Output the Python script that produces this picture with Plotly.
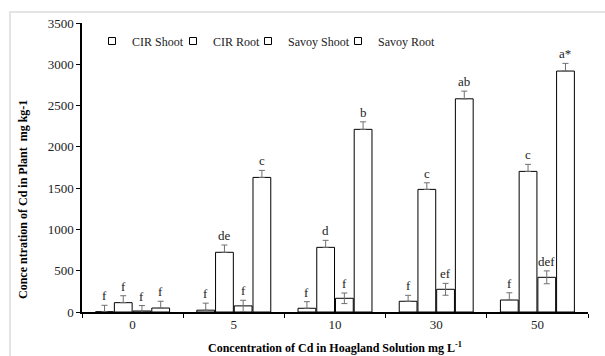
import plotly.graph_objects as go

categories = ["0", "5", "10", "30", "50"]
series_names = ["CIR Shoot", "CIR Root", "Savoy Shoot", "Savoy Root"]

cir_shoot = [3, 22, 45, 130, 145]
cir_shoot_err = [78, 85, 80, 72, 88]
cir_root = [113, 723, 783, 1485, 1703]
cir_root_err = [84, 88, 85, 80, 85]
savoy_shoot = [12, 74, 166, 275, 420]
savoy_shoot_err = [66, 68, 64, 72, 78]
savoy_root = [48, 1630, 2212, 2582, 2918]
savoy_root_err = [82, 85, 91, 93, 93]

cir_shoot_lbl = ["f", "f", "f", "f", "f"]
cir_root_lbl = ["f", "de", "d", "c", "c"]
savoy_shoot_lbl = ["f", "f", "f", "ef", "def"]
savoy_root_lbl = ["f", "c", "b", "ab", "a*"]

values = [cir_shoot, cir_root, savoy_shoot, savoy_root]
errors = [cir_shoot_err, cir_root_err, savoy_shoot_err, savoy_root_err]
labels = [cir_shoot_lbl, cir_root_lbl, savoy_shoot_lbl, savoy_root_lbl]
symmetric = [False, False, True, False]

W, H = 605, 356
ML, MR, MT, MB = 82, 17, 23, 44
pw = W - ML - MR
ph = H - MT - MB
FONT = "Liberation Serif"

legend_ids = ["legend", "legend2", "legend3", "legend4"]
legend_text_px = [124, 205, 280, 370]

fig = go.Figure()
for name, v, e, sym, lid in zip(series_names, values, errors, symmetric, legend_ids):
    fig.add_trace(go.Bar(
        name=name, x=categories, y=v, showlegend=False, legendgroup=name,
        marker=dict(color="white", line=dict(color="black", width=1)),
        error_y=dict(type="data", array=e, symmetric=True if sym else False,
                     arrayminus=e if sym else [0] * len(e),
                     color="#707070", thickness=1, width=3),
    ))
    # legend entry with a small square key, as in the original
    fig.add_trace(go.Scatter(
        name=name, x=[None], y=[None], mode="markers", legend=lid,
        legendgroup=name, showlegend=True, hoverinfo="skip",
        marker=dict(symbol="square", size=7, color="white",
                    line=dict(color="black", width=1)),
    ))

bargap = 0.26
bargroupgap = 0.05
cat_px = pw / len(categories)
slot = cat_px * (1 - bargap) / len(series_names)
annotations = []
for i, (v, e, lb) in enumerate(zip(values, errors, labels)):
    off = (i - (len(series_names) - 1) / 2) * slot
    for ci, (val, er, t) in enumerate(zip(v, e, lb)):
        annotations.append(dict(
            x=ci, y=val + er, xref="x", yref="y", text=t, showarrow=False,
            xshift=off, yshift=0, yanchor="bottom",
            font=dict(family=FONT, size=13, color="#222")))

annotations.append(dict(
    x=0.5, y=-(347 - (MT + ph)) / ph, xref="paper", yref="paper",
    text="<b>Concentration of Cd in Hoagland Solution mg L<sup>-1</sup></b>",
    showarrow=False, xanchor="center", yanchor="middle",
    font=dict(family=FONT, size=12, color="black")))
annotations.append(dict(
    x=(23 - ML) / pw, y=(MT + ph - 200) / ph, xref="paper", yref="paper",
    text="<b>Conce ntration of Cd in Plant  mg kg-1</b>", textangle=-90,
    showarrow=False, xanchor="center", yanchor="middle",
    font=dict(family=FONT, size=12, color="black")))

legends = {}
for lid, tx in zip(legend_ids, legend_text_px):
    legends[lid] = dict(
        orientation="h", x=(tx - 32 - ML) / pw, y=(MT + ph - 41) / ph,
        xanchor="left", yanchor="middle", bgcolor="rgba(0,0,0,0)",
        font=dict(family=FONT, size=12, color="#222"), itemwidth=30)

fig.update_layout(
    width=W, height=H,
    margin=dict(l=ML, r=MR, t=MT, b=MB),
    paper_bgcolor="white", plot_bgcolor="white",
    barmode="group", bargap=bargap, bargroupgap=bargroupgap,
    font=dict(family=FONT, size=12, color="black"),
    showlegend=True,
    xaxis=dict(type="category", categoryorder="array", categoryarray=categories,
               range=[-0.5, len(categories) - 0.5],
               showline=True, linecolor="black", linewidth=1.5,
               ticks="outside", ticklen=4, tickcolor="black", tickson="boundaries",
               tickfont=dict(family=FONT, size=13, color="#222"),
               showgrid=False, zeroline=False),
    yaxis=dict(range=[0, 3500], dtick=500, showline=True, linecolor="black",
               linewidth=1.5, ticks="outside", ticklen=4, tickcolor="black",
               tickfont=dict(family=FONT, size=13, color="#222"),
               showgrid=False, zeroline=False),
    annotations=annotations,
    shapes=[dict(type="rect", xref="paper", yref="paper",
                 x0=(10 - ML) / pw, x1=(W + 5 - ML) / pw,
                 y0=-(H + 5 - MT - ph) / ph, y1=1 + (MT - 12) / ph,
                 line=dict(color="#e4e4e4", width=2), layer="below")],
    **legends,
)

fig.write_html("out.html", post_script="document.body.style.margin='0';",
               config={"displayModeBar": False})
